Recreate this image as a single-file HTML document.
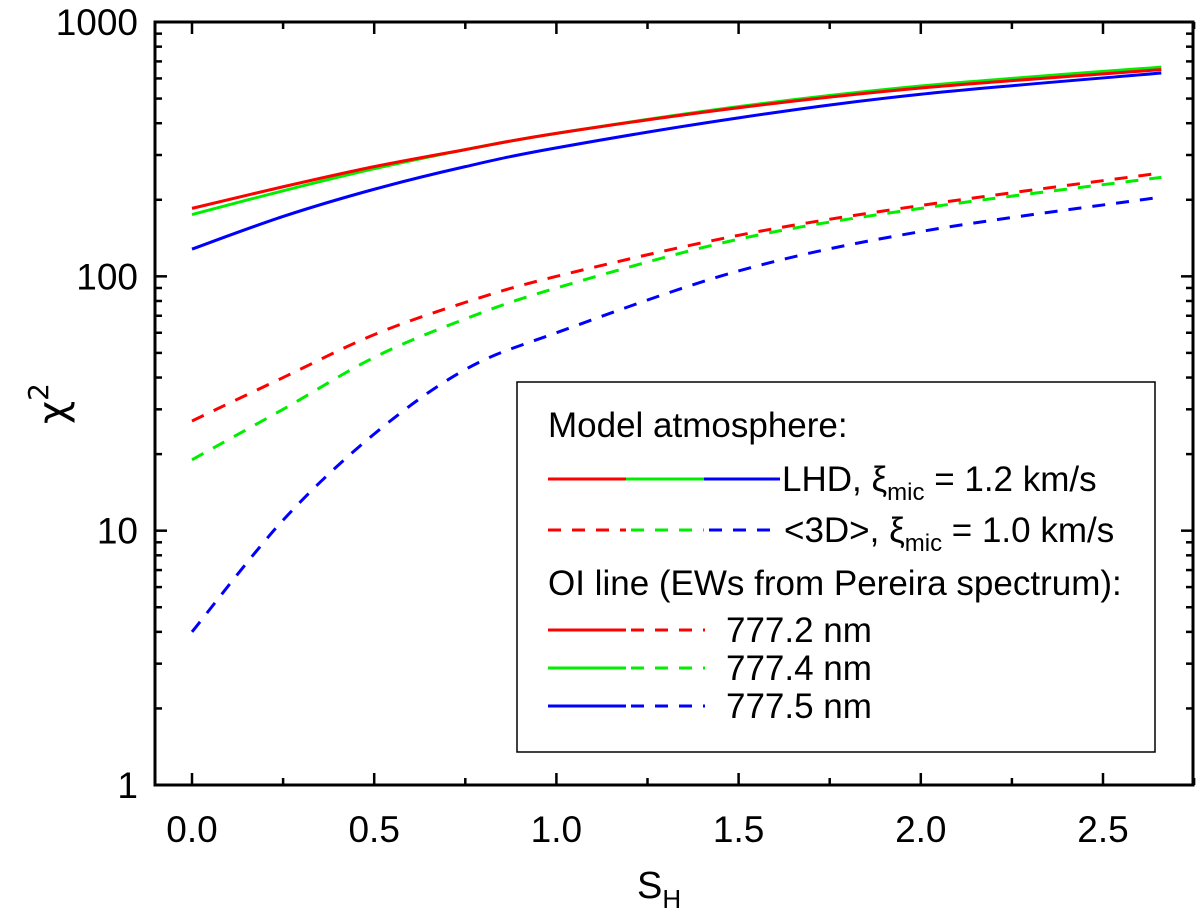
<!DOCTYPE html>
<html><head><meta charset="utf-8"><style>
body{margin:0;background:#fff}
svg{display:block;font-family:"Liberation Sans",Arial,sans-serif}
</style></head><body>
<svg id="c" width="1200" height="913" viewBox="0 0 1200 913">
<g id="plot"></g>
</svg>
<script>
const xs = [0, 0.25, 0.5, 0.75, 1.0, 1.5, 2.0, 2.66];
const redSolid   = [185, 225, 270, 315, 365, 460, 550, 650];
const greenSolid = [175, 217, 265, 315, 365, 465, 560, 665];
const blueSolid  = [128, 172, 220, 270, 320, 420, 520, 630];
const redDash    = [27, 40, 59, 79, 100, 145, 190, 255];
const greenDash  = [19, 30, 48, 68, 90, 140, 185, 245];
const blueDash   = [4, 11, 24, 43, 60, 105, 150, 205];
const xTicks = [0, 0.5, 1.0, 1.5, 2.0, 2.5];
const xTickLabels = ["0.0","0.5","1.0","1.5","2.0","2.5"];
const yTicks = [1, 10, 100, 1000];
const yTickLabels = ["1","10","100","1000"];

const L=155,R=1193,T=22,B=785;
const X=v=>192+v*364.4;
const Y=v=>B-Math.log10(v)*254.33;
const NS="http://www.w3.org/2000/svg";
const g=document.getElementById('plot');
function mk(t,a,p){const e=document.createElementNS(NS,t);for(const k in a)e.setAttribute(k,a[k]);(p||g).appendChild(e);return e;}
function path(vals,color,dash,name){
  const pts=xs.map((x,i)=>[X(x),Y(vals[i])]);
  let d=`M${pts[0][0]},${pts[0][1]}`;
  for(let i=0;i<pts.length-1;i++){
    const p0=pts[Math.max(0,i-1)],p1=pts[i],p2=pts[i+1],p3=pts[Math.min(pts.length-1,i+2)];
    const c1=[p1[0]+(p2[0]-p0[0])/6,p1[1]+(p2[1]-p0[1])/6];
    const c2=[p2[0]-(p3[0]-p1[0])/6,p2[1]-(p3[1]-p1[1])/6];
    d+=` C${c1[0]},${c1[1]} ${c2[0]},${c2[1]} ${p2[0]},${p2[1]}`;
  }
  const e=mk('path',{d,fill:'none',stroke:color,'stroke-width':3});
  if(dash)e.setAttribute('stroke-dasharray','13 11');
  
  
}
path(redDash,'#f00',true,'series-777-2-3d');
path(greenDash,'#0e0',true,'series-777-4-3d');
path(blueDash,'#00f',true,'series-777-5-3d');
path(blueSolid,'#00f',false,'series-777-5-lhd');
path(greenSolid,'#0e0',false,'series-777-4-lhd');
path(redSolid,'#f00',false,'series-777-2-lhd');

const fr=mk('rect',{x:L,y:T,width:R-L,height:B-T,fill:'none',stroke:'#000','stroke-width':3});

for(let v=0;v<=2.76;v+=0.25){
  const maj=Math.abs(v*2-Math.round(v*2))<1e-6, len=maj?12:7, x=X(v);
  mk('line',{x1:x,x2:x,y1:B,y2:B-len,stroke:'#000','stroke-width':2.5});
  mk('line',{x1:x,x2:x,y1:T,y2:T+len,stroke:'#000','stroke-width':2.5});
}
xTicks.forEach((v,i)=>{const t=mk('text',{x:X(v),y:842,'font-size':37,'text-anchor':'middle'});t.textContent=xTickLabels[i];
});
for(let d=0;d<3;d++)for(let m=1;m<=9;m++){
  const v=m*Math.pow(10,d),y=Y(v),len=m==1?12:7;
  mk('line',{x1:L,x2:L+len,y1:y,y2:y,stroke:'#000','stroke-width':2.5});
  mk('line',{x1:R,x2:R-len,y1:y,y2:y,stroke:'#000','stroke-width':2.5});
}
yTicks.forEach((v,i)=>{const t=mk('text',{x:138,y:Y(v)+13,'font-size':37,'text-anchor':'end'});t.textContent=yTickLabels[i];
});
</script>
<svg style="position:absolute;left:0;top:0" width="1200" height="913">
<text x="637" y="898" font-size="38">S<tspan font-size="26" dy="10">H</tspan></text>
<g transform="translate(66,424) rotate(-90)"><text x="0" y="0" font-size="40" font-family="DejaVu Sans,sans-serif">χ<tspan font-size="28" dy="-18">2</tspan></text></g>
<g font-size="35" font-family="Liberation Sans,Arial,sans-serif">
<rect x="517" y="382" width="638" height="370" fill="#fff" stroke="#000" stroke-width="1.5"/>
<text x="548" y="437">Model atmosphere:</text>
<line x1="548" x2="626" y1="479" y2="479" stroke="#f00" stroke-width="3"/>
<line x1="626" x2="704" y1="479" y2="479" stroke="#0e0" stroke-width="3"/>
<line x1="704" x2="780" y1="479" y2="479" stroke="#00f" stroke-width="3"/>
<text x="782" y="491">LHD, ξ<tspan font-size="24" dy="9">mic</tspan><tspan dy="-9"> = 1.2 km/s</tspan></text>
<line x1="548" x2="626" y1="530" y2="530" stroke="#f00" stroke-width="3" stroke-dasharray="13 11"/>
<line x1="631" x2="704" y1="530" y2="530" stroke="#0e0" stroke-width="3" stroke-dasharray="13 11"/>
<line x1="709" x2="780" y1="530" y2="530" stroke="#00f" stroke-width="3" stroke-dasharray="13 11"/>
<text x="784" y="542">&lt;3D&gt;, ξ<tspan font-size="24" dy="9">mic</tspan><tspan dy="-9"> = 1.0 km/s</tspan></text>
<text x="548" y="595">OI line (EWs from Pereira spectrum):</text>
<line x1="548" x2="626" y1="630" y2="630" stroke="#f00" stroke-width="3"/>
<line x1="631" x2="705" y1="630" y2="630" stroke="#f00" stroke-width="3" stroke-dasharray="13 11"/>
<text x="726" y="642">777.2 nm</text>
<line x1="548" x2="626" y1="668" y2="668" stroke="#0e0" stroke-width="3"/>
<line x1="631" x2="705" y1="668" y2="668" stroke="#0e0" stroke-width="3" stroke-dasharray="13 11"/>
<text x="726" y="680">777.4 nm</text>
<line x1="548" x2="626" y1="706" y2="706" stroke="#00f" stroke-width="3"/>
<line x1="631" x2="705" y1="706" y2="706" stroke="#00f" stroke-width="3" stroke-dasharray="13 11"/>
<text x="726" y="718">777.5 nm</text>
</g>
</svg>
</body></html>
